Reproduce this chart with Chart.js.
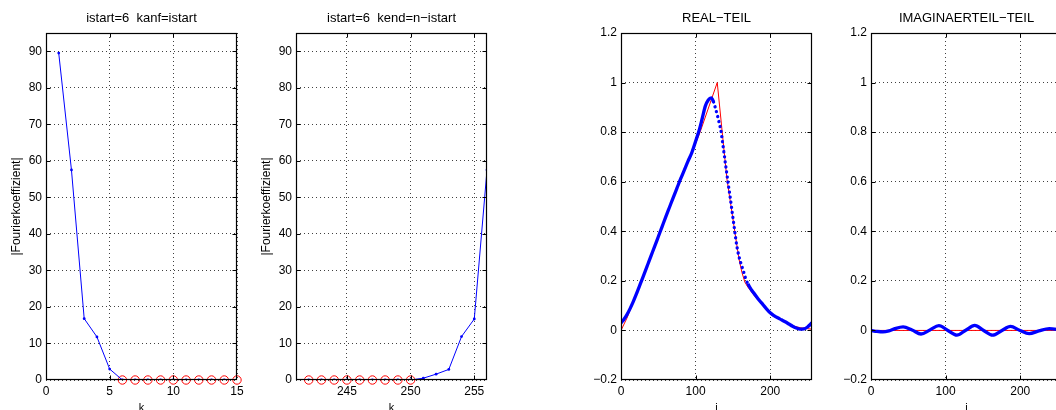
<!DOCTYPE html>
<html><head><meta charset="utf-8">
<script src="https://cdn.jsdelivr.net/npm/chart.js@4"></script>
<style>
html,body{margin:0;padding:0;width:1056px;height:410px;overflow:hidden;background:#fff;position:relative;}
canvas{position:absolute;top:0;}
</style></head><body>
<canvas id="c1" width="249" height="420" style="left:0px"></canvas>
<canvas id="c2" width="249" height="420" style="left:250px"></canvas>
<canvas id="c3" width="244" height="420" style="left:580px"></canvas>
<canvas id="c4" width="244" height="420" style="left:830px"></canvas>
<script>
// ---------- data ----------
const kLow = [1,2,3,4,5,6,7,8,9,10,11,12,13,14,15];
const absLow = [89.5,57.5,16.8,11.8,3.0,0,0,0,0,0,0,0,0,0,0];
const kLowZeroed = [6,7,8,9,10,11,12,13,14,15];
const zeroLow = [0,0,0,0,0,0,0,0,0,0];

const kHigh = [241,242,243,244,245,246,247,248,249,250,251,252,253,254,255,256];
const absHigh = [0,0,0,0,0,0,0,0,0,0,0.5,1.6,2.9,11.9,16.7,57.5];
const kHighZeroed = [242,243,244,245,246,247,248,249,250];
const zeroHigh = [0,0,0,0,0,0,0,0,0];

const iRealRef = [0,8,16,28,40,52,65,78,93,106,129,142,146,150,154,158,162,166,170,180,190,200,210,220,230,240,250,256];
const realRef  = [0,0.05,0.11,0.205,0.30,0.40,0.50,0.60,0.70,0.80,1.0,0.61,0.53,0.45,0.37,0.29,0.235,0.195,0.175,0.135,0.103,0.065,0.048,0.033,0.019,0.011,0.007,0.005];

const iRealApprox = [0,4,8,12,16,20,24,28,32,36,40,45,50,55,60,65,70,75,80,85,90,95,100,105,109,113,117,121,124,127,130,132,134,136,138,140,142,144,146,148,150,152,154,156,158,161,164,167,170,175,180,185,190,195,200,205,210,215,220,225,230,235,240,245,250,256];
const realApprox  = [0.030,0.045,0.064,0.087,0.113,0.142,0.173,0.204,0.235,0.267,0.299,0.338,0.378,0.418,0.458,0.497,0.536,0.574,0.612,0.648,0.684,0.718,0.763,0.810,0.857,0.905,0.930,0.938,0.922,0.892,0.858,0.832,0.805,0.762,0.718,0.672,0.628,0.585,0.545,0.500,0.455,0.410,0.365,0.328,0.300,0.268,0.240,0.210,0.188,0.163,0.143,0.123,0.105,0.087,0.071,0.060,0.051,0.043,0.035,0.026,0.017,0.010,0.005,0.006,0.014,0.031];

const iImagRef = [0,256];
const imagRef  = [0,0];
const iImagApprox = [0,8,16,24,32,43,55,67,79,91,103,115,127,139,151,163,175,187,199,212,225,239,250,256];
const imagApprox  = [0,-0.004,-0.006,-0.002,0.007,0.014,0.002,-0.0145,0.002,0.019,0.0,-0.019,0.001,0.020,0.0,-0.019,-0.001,0.016,0.001,-0.013,-0.002,0.007,0.004,0.001];

const kLowTicks = [0,5,10,15];
const kHighTicks = [245,250,255];
const absTicks = [0,10,20,30,40,50,60,70,80,90];
const iTicks = [0,100,200];
const partTicks = [-0.2,0,0.2,0.4,0.6,0.8,1.0,1.2];

// ---------- helpers ----------
const FONT = '"Liberation Sans", Arial, Helvetica, sans-serif';
const zip = (xs, ys) => xs.map((x, i) => ({x, y: ys[i]}));
const fmtPart = v => {
  if (Math.abs(v) < 1e-9) return '0';
  let s = Math.abs(v).toFixed(1).replace(/\.0$/, '');
  return (v < 0 ? '\u2212' : '') + s;
};

const boxPlugin = {
  id: 'matlabBox',
  afterDraw(chart) {
    const {ctx, chartArea: a, scales: {x, y}} = chart;
    const L = Math.round(a.left) + 0.5, R = Math.round(a.right) - 0.5;
    const T = Math.round(a.top) + 0.5, B = Math.round(a.bottom) - 0.5;
    ctx.save();
    ctx.strokeStyle = '#000';
    ctx.lineWidth = 1;
    ctx.setLineDash([]);
    ctx.beginPath();
    const tl = 4;
    x.ticks.forEach(t => {
      const p = Math.round(x.getPixelForValue(t.value)) + 0.5;
      if (p <= L + 1 || p >= R - 1) return;
      ctx.moveTo(p, B); ctx.lineTo(p, B - tl);
      ctx.moveTo(p, T); ctx.lineTo(p, T + tl);
    });
    y.ticks.forEach(t => {
      const p = Math.round(y.getPixelForValue(t.value)) + 0.5;
      if (p <= T + 1 || p >= B - 1) return;
      ctx.moveTo(L, p); ctx.lineTo(L + tl, p);
      ctx.moveTo(R, p); ctx.lineTo(R - tl, p);
    });
    ctx.stroke();
    ctx.lineWidth = 1.2;
    ctx.strokeRect(L, T, R - L, B - T);
    ctx.restore();
  }
};

// dotted look where the dense marker curve falls steeply
function steepDown(ctx) {
  const dx = Math.abs(ctx.p1.x - ctx.p0.x), dy = ctx.p1.y - ctx.p0.y;
  return dy > 2.2 * dx;
}

function makeChart(id, o) {
  return new Chart(document.getElementById(id), {
    type: 'line',
    data: {datasets: o.datasets},
    plugins: [boxPlugin],
    options: {
      responsive: false,
      animation: false,
      devicePixelRatio: 1,
      layout: {padding: {left: 0, right: 12, top: 0, bottom: 0}},
      plugins: {
        legend: {display: false},
        tooltip: {enabled: false},
        title: {
          display: true, text: o.title, color: '#000', fullSize: false,
          font: {family: FONT, size: 13, weight: 'normal', lineHeight: 1.2},
          padding: {top: 11, bottom: 6.4}
        }
      },
      scales: {
        x: {
          type: 'linear', min: o.xMin, max: o.xMax,
          afterBuildTicks: s => { s.ticks = o.xTicks.map(v => ({value: v})); },
          afterFit: s => { s.height = 40; },
          ticks: {autoSkip: false, maxRotation: 0, padding: 4, color: '#000',
                  font: {family: FONT, size: 12}, callback: v => String(v)},
          grid: {color: 'rgba(0,0,0,0.75)', lineWidth: 1, drawTicks: false},
          border: {display: false, dash: [1, 3]},
          title: {display: true, text: o.xTitle, color: '#000',
                  font: {family: FONT, size: 11}, padding: {top: 0, bottom: 5}}
        },
        y: {
          type: 'linear', min: o.yMin, max: o.yMax,
          afterBuildTicks: s => { s.ticks = o.yTicks.map(v => ({value: v})); },
          afterFit: s => { s.width = o.yWidth; },
          ticks: {autoSkip: false, padding: 4, color: '#000',
                  font: {family: FONT, size: 12}, callback: o.yFmt},
          grid: {color: 'rgba(0,0,0,0.75)', lineWidth: 1, drawTicks: false},
          border: {display: false, dash: [1, 3]},
          title: {display: !!o.yTitle, text: o.yTitle || '', color: '#000',
                  font: {family: FONT, size: 12}, padding: {top: 9.5, bottom: 0}}
        }
      }
    }
  });
}

const blueLine = data => ({
  data, borderColor: '#0000ff', backgroundColor: '#0000ff', borderWidth: 1,
  pointRadius: 1.4, pointBorderWidth: 0, pointBackgroundColor: '#0000ff', tension: 0
});
const redCircles = data => ({
  data, showLine: false, borderColor: '#ff0000', backgroundColor: 'rgba(0,0,0,0)',
  pointRadius: 4.2, pointBorderWidth: 1, pointBorderColor: '#ff0000',
  pointBackgroundColor: 'rgba(0,0,0,0)', clip: false
});
const thickBlue = data => ({
  data, borderColor: '#0000ff', borderWidth: 3.3, pointRadius: 0,
  cubicInterpolationMode: 'monotone', borderJoinStyle: 'round',
  segment: {
    borderDash: c => steepDown(c) ? [0.1, 5.0] : undefined,
    borderCapStyle: c => steepDown(c) ? 'round' : undefined
  }
});
const redThin = data => ({
  data, borderColor: '#ff0000', borderWidth: 1, pointRadius: 0, tension: 0
});

makeChart('c1', {
  title: 'istart=6  kanf=istart', xTitle: 'k', yTitle: '|Fourierkoeffizient|',
  xMin: 0, xMax: 15, xTicks: kLowTicks, yMin: 0, yMax: 95, yTicks: absTicks,
  yWidth: 46, yFmt: v => String(v),
  datasets: [blueLine(zip(kLow, absLow)), redCircles(zip(kLowZeroed, zeroLow))]
});
makeChart('c2', {
  title: 'istart=6  kend=n\u2212istart', xTitle: 'k', yTitle: '|Fourierkoeffizient|',
  xMin: 241, xMax: 256, xTicks: kHighTicks, yMin: 0, yMax: 95, yTicks: absTicks,
  yWidth: 46, yFmt: v => String(v),
  datasets: [blueLine(zip(kHigh, absHigh)), redCircles(zip(kHighZeroed, zeroHigh))]
});
makeChart('c3', {
  title: 'REAL\u2212TEIL', xTitle: 'i', yTitle: null,
  xMin: 0, xMax: 256, xTicks: iTicks, yMin: -0.2, yMax: 1.2, yTicks: partTicks,
  yWidth: 41, yFmt: fmtPart,
  datasets: [thickBlue(zip(iRealApprox, realApprox)), redThin(zip(iRealRef, realRef))]
});
makeChart('c4', {
  title: 'IMAGINAERTEIL\u2212TEIL', xTitle: 'i', yTitle: null,
  xMin: 0, xMax: 256, xTicks: iTicks, yMin: -0.2, yMax: 1.2, yTicks: partTicks,
  yWidth: 41, yFmt: fmtPart,
  datasets: [thickBlue(zip(iImagApprox, imagApprox)), redThin(zip(iImagRef, imagRef))]
});
</script>
</body></html>
